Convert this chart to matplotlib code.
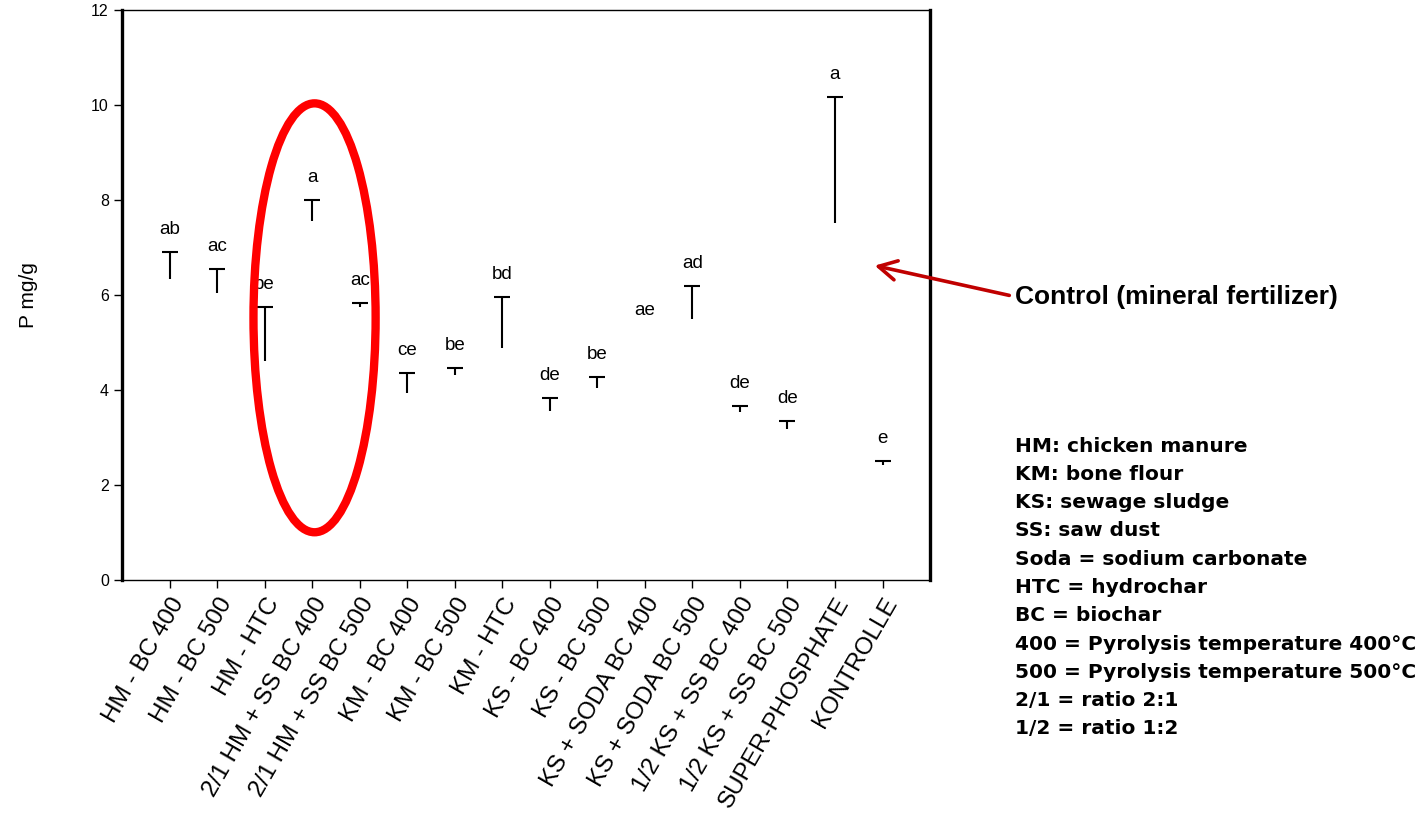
import matplotlib
matplotlib.use('Agg')
import matplotlib.pyplot as plt
import numpy as np
from matplotlib.patches import Ellipse, FancyArrowPatch

plt.rcParams['font.family'] = ['Liberation Sans', 'DejaVu Sans']

# treatments on the x axis
treatments = ['HM - BC 400', 'HM - BC 500', 'HM - HTC', '2/1 HM + SS BC 400',
              '2/1 HM + SS BC 500', 'KM - BC 400', 'KM - BC 500', 'KM - HTC',
              'KS - BC 400', 'KS - BC 500', 'KS + SODA BC 400', 'KS + SODA BC 500',
              '1/2 KS + SS BC 400', '1/2 KS + SS BC 500', 'SUPER-PHOSPHATE', 'KONTROLLE']

# mean (bottom of the whisker) and mean + sd (cap); nan = not drawn
means = [6.34, 6.04, 4.61, 7.56, 5.75, 3.94, 4.32, 4.88,
         3.56, 4.04, np.nan, 5.49, 3.53, 3.18, 7.52, 2.42]
tops = [6.90, 6.55, 5.75, 8.00, 5.83, 4.36, 4.46, 5.96,
        3.83, 4.27, 5.21, 6.19, 3.66, 3.35, 10.17, 2.50]
letters = ['ab', 'ac', 'be', 'a', 'ac', 'ce', 'be', 'bd',
           'de', 'be', 'ae', 'ad', 'de', 'de', 'a', 'e']

abbrev = ['HM: chicken manure', 'KM: bone flour', 'KS: sewage sludge', 'SS: saw dust',
          'Soda = sodium carbonate', 'HTC = hydrochar', 'BC = biochar',
          '400 = Pyrolysis temperature 400°C', '500 = Pyrolysis temperature 500°C',
          '2/1 = ratio 2:1', '1/2 = ratio 1:2']

x = np.arange(len(treatments))
means = np.array(means)
tops = np.array(tops)

fig = plt.figure(figsize=(14.26, 8.35), dpi=100)
ax = fig.add_axes([0.0856, 0.3054, 0.5666, 0.6826])

drawn = ~np.isnan(means)
ax.vlines(x[drawn], means[drawn], tops[drawn], color='black', lw=1.5)
ax.plot(x[drawn], tops[drawn], ls='none', marker='_', ms=11.5, mew=1.5, color='black')

for xi, t, lab in zip(x, tops, letters):
    ax.text(xi, t + 0.47, lab, ha='center', va='center', fontsize=13.5)

ax.set_xlim(-1, 16)
ax.set_ylim(0, 12)
ax.set_yticks(range(0, 13, 2))
ax.set_xticks(x)
ax.set_xticklabels(treatments, rotation=60, ha='right', rotation_mode='anchor', fontsize=17.5)
ax.tick_params(axis='y', labelsize=11.5, length=6, width=1, direction='out')
ax.tick_params(axis='x', length=6, width=1, direction='out', pad=4)
ax.set_ylabel('P mg/g', fontsize=15, labelpad=38)

for side in ['left', 'right']:
    ax.spines[side].set_linewidth(2.4)
for side in ['top', 'bottom']:
    ax.spines[side].set_linewidth(1.0)

# highlight ellipse
ell = Ellipse((3.05, 5.52), 2.57, 9.03, fill=False, edgecolor='#ff0000', lw=6,
              clip_on=False, zorder=5)
ax.add_patch(ell)

# arrow + control label
arrow = FancyArrowPatch((1012 / 1426, 1 - 296 / 835), (872 / 1426, 1 - 265 / 835),
                        transform=fig.transFigure, arrowstyle='->,head_length=13,head_width=7',
                        color='#c00000', lw=2.6, mutation_scale=1)
fig.add_artist(arrow)
fig.text(1015 / 1426, 1 - 297 / 835, 'Control (mineral fertilizer)', fontsize=19,
         fontweight='bold', ha='left', va='center')

for i, line in enumerate(abbrev):
    fig.text(1015 / 1426, 1 - (446 + i * 28.3) / 835, line, fontsize=14.5,
             fontweight='bold', ha='left', va='center', family='DejaVu Sans')

fig.savefig('out.png', dpi=100)
